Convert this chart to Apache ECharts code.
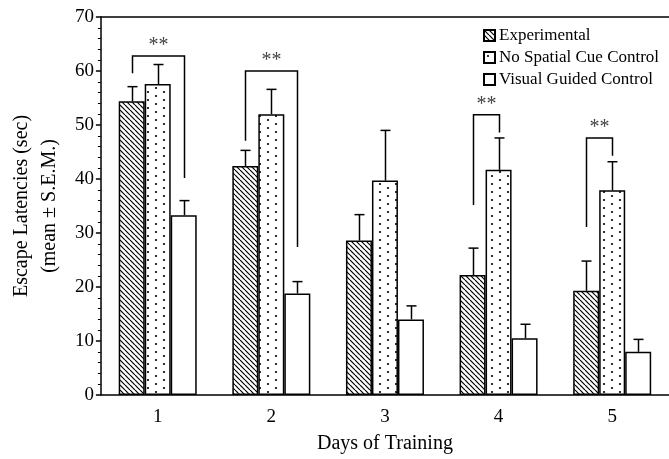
<!DOCTYPE html>
<html>
<head>
<meta charset="utf-8">
<script src="https://cdn.jsdelivr.net/npm/echarts@6/dist/echarts.min.js"></script>
<style>
  html, body { margin: 0; padding: 0; background: #fff; }
  #chart { width: 669px; height: 459px; }
</style>
</head>
<body>
<div id="chart"></div>
<script>
// Escape latency per training day, mean and S.E.M. for each group
const categories = ['1', '2', '3', '4', '5'];
const seriesNames = ['Experimental', 'No Spatial Cue Control', 'Visual Guided Control'];
const experimental = [54.4, 42.4, 28.6, 22.2, 19.3];
const experimentalSem = [2.7, 2.9, 4.8, 5.0, 5.5];
const noSpatialCue = [57.6, 52.0, 39.7, 41.7, 37.9];
const noSpatialCueSem = [3.6, 4.6, 9.3, 5.9, 5.3];
const visualGuided = [33.3, 18.8, 14.0, 10.5, 8.0];
const visualGuidedSem = [2.7, 2.2, 2.5, 2.6, 2.3];
const yTicks = [0, 10, 20, 30, 40, 50, 60, 70];

// Significance brackets: [day index, from group, to group, top, from-leg end, to-leg end]
const brackets = [
  [0, 0, 2, 62.8, 59.6, 40.2],
  [1, 0, 2, 60.0, 47.1, 27.4],
  [3, 0, 1, 51.9, 35.2, 48.6],
  [4, 0, 1, 47.6, 31.1, 44.3]
];
const bracketLabel = '**';

const FONT = '"Liberation Serif", "DejaVu Serif", serif';
const BAR_W = 26;
const groupOffset = [-BAR_W, 0, BAR_W];

function hatchPattern() {
  const c = document.createElement('canvas');
  c.width = 5; c.height = 5;
  const g = c.getContext('2d');
  g.fillStyle = '#fff';
  g.fillRect(0, 0, 5, 5);
  g.strokeStyle = '#000';
  g.lineWidth = 1.2;
  for (const k of [-5, 0, 5]) {
    g.beginPath();
    g.moveTo(k, 0);
    g.lineTo(k + 5, 5);
    g.stroke();
  }
  return c;
}

function dotPattern() {
  const c = document.createElement('canvas');
  c.width = 16; c.height = 16;
  const g = c.getContext('2d');
  g.fillStyle = '#fff';
  g.fillRect(0, 0, 16, 16);
  g.fillStyle = '#000';
  for (const [x, y] of [[4, 4], [12, 8], [4, 12], [12, 16], [12, 0]]) {
    g.beginPath();
    g.arc(x, y, 1.1, 0, Math.PI * 2);
    g.fill();
  }
  return c;
}

const fills = [
  { image: hatchPattern(), repeat: 'repeat' },
  { image: dotPattern(), repeat: 'repeat' },
  '#fff'
];
const means = [experimental, noSpatialCue, visualGuided];
const sems = [experimentalSem, noSpatialCueSem, visualGuidedSem];

const chart = echarts.init(document.getElementById('chart'), null, { renderer: 'canvas' });

const barSeries = seriesNames.map((name, i) => ({
  name,
  type: 'bar',
  data: means[i],
  barWidth: BAR_W,
  barGap: '0%',
  itemStyle: { color: fills[i], borderColor: '#000', borderWidth: 1.5 },
  z: 2
}));

const errorSeries = seriesNames.map((name, i) => ({
  type: 'custom',
  name: name + ' SEM',
  data: categories.map((_, d) => [d, means[i][d], sems[i][d]]),
  encode: { x: 0, y: 1 },
  z: 3,
  silent: true,
  renderItem(params, api) {
    const d = api.value(0);
    const m = api.value(1);
    const s = api.value(2);
    const base = api.coord([d, m]);
    const top = api.coord([d, m + s]);
    const x = Math.round(base[0] + groupOffset[i]) + 0.5;
    const style = { stroke: '#000', lineWidth: 1.5 };
    return {
      type: 'group',
      children: [
        { type: 'line', shape: { x1: x, y1: base[1], x2: x, y2: top[1] }, style },
        { type: 'line', shape: { x1: x - 5, y1: top[1], x2: x + 5, y2: top[1] }, style }
      ]
    };
  }
}));

const bracketSeries = {
  type: 'custom',
  name: 'significance',
  data: brackets,
  encode: { x: 0, y: 3 },
  z: 4,
  silent: true,
  renderItem(params, api) {
    const d = api.value(0);
    const a = api.value(1);
    const b = api.value(2);
    const topY = api.coord([d, api.value(3)])[1];
    const aY = api.coord([d, api.value(4)])[1];
    const bY = api.coord([d, api.value(5)])[1];
    const cx = api.coord([d, 0])[0];
    const xa = Math.round(cx + groupOffset[a]) + 0.5;
    const xb = Math.round(cx + groupOffset[b]) + 0.5;
    return {
      type: 'group',
      children: [
        {
          type: 'polyline',
          shape: { points: [[xa, aY], [xa, topY], [xb, topY], [xb, bY]] },
          style: { stroke: '#000', lineWidth: 1.5, fill: null }
        },
        {
          type: 'text',
          style: {
            x: (xa + xb) / 2,
            y: topY - 10,
            text: bracketLabel,
            font: '20px ' + FONT,
            fill: '#444',
            align: 'center',
            verticalAlign: 'middle'
          }
        }
      ]
    };
  }
};

chart.setOption({
  animation: false,
  backgroundColor: '#fff',
  textStyle: { fontFamily: FONT, color: '#000' },
  grid: { left: 100, right: -1, top: 17, bottom: 62 },
  legend: {
    data: seriesNames,
    orient: 'vertical',
    left: 483,
    top: 27,
    padding: 0,
    itemWidth: 11,
    itemHeight: 11,
    itemGap: 5,
    icon: 'rect',
    textStyle: { fontFamily: FONT, fontSize: 17, color: '#000', lineHeight: 17, padding: [0, 0, 0, -1] },
    selectedMode: false
  },
  xAxis: [
    {
      type: 'category',
      data: categories,
      name: 'Days of Training',
      nameLocation: 'middle',
      nameGap: 39,
      nameTextStyle: { fontFamily: FONT, fontSize: 20, color: '#000' },
      axisLine: { lineStyle: { color: '#000', width: 1.5 } },
      axisTick: { inside: true, length: 5, lineStyle: { color: '#000', width: 1.5 } },
      axisLabel: { fontFamily: FONT, fontSize: 19, color: '#000', margin: 13 },
      splitLine: { show: false }
    },
    {
      // plain frame line along the top of the plot
      type: 'category',
      data: categories,
      position: 'top',
      axisLine: { show: true, lineStyle: { color: '#000', width: 1.5 } },
      axisTick: { show: false },
      axisLabel: { show: false },
      splitLine: { show: false }
    }
  ],
  yAxis: {
    type: 'value',
    min: yTicks[0],
    max: yTicks[yTicks.length - 1],
    interval: yTicks[1] - yTicks[0],
    name: 'Escape Latencies (sec)\n(mean \u00b1 S.E.M.)',
    nameLocation: 'middle',
    nameRotate: 90,
    nameGap: 36,
    nameTextStyle: { fontFamily: FONT, fontSize: 20, color: '#000', lineHeight: 28 },
    axisLine: { show: true, lineStyle: { color: '#000', width: 1.5 } },
    axisTick: { show: true, length: 5, lineStyle: { color: '#000', width: 1.5 } },
    minorTick: { show: true, splitNumber: 5, length: 3, lineStyle: { color: '#000', width: 1 } },
    axisLabel: { fontFamily: FONT, fontSize: 19, color: '#000', margin: 7 },
    splitLine: { show: false }
  },
  series: [...barSeries, ...errorSeries, bracketSeries]
});
</script>
</body>
</html>
